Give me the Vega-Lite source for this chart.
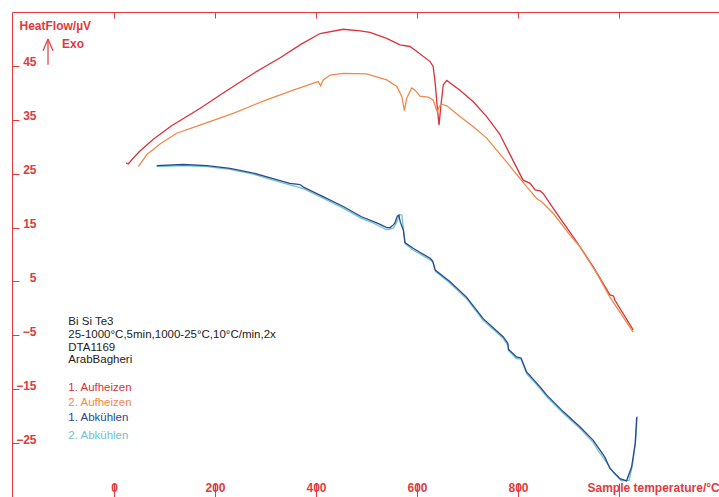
{
  "$schema": "https://vega.github.io/schema/vega-lite/v6.json",
  "width": 707,
  "height": 485,
  "padding": {"left": 12, "top": 12, "right": 0, "bottom": 0},
  "autosize": {"type": "none"},
  "background": "white",
  "config": {"view": {"stroke": null}, "font": "Liberation Sans"},
  "datasets": {
    "curves": [
      {"s": "1. Aufheizen", "i": 1, "T": 23.8, "V": 27.0},
      {"s": "1. Aufheizen", "i": 2, "T": 28.3, "V": 26.8},
      {"s": "1. Aufheizen", "i": 3, "T": 38.2, "V": 27.9},
      {"s": "1. Aufheizen", "i": 4, "T": 51.5, "V": 29.2},
      {"s": "1. Aufheizen", "i": 5, "T": 77.8, "V": 31.4},
      {"s": "1. Aufheizen", "i": 6, "T": 114, "V": 33.9},
      {"s": "1. Aufheizen", "i": 7, "T": 170, "V": 37.1},
      {"s": "1. Aufheizen", "i": 8, "T": 223, "V": 40.4},
      {"s": "1. Aufheizen", "i": 9, "T": 276, "V": 43.6},
      {"s": "1. Aufheizen", "i": 10, "T": 329, "V": 46.5},
      {"s": "1. Aufheizen", "i": 11, "T": 370, "V": 49.0},
      {"s": "1. Aufheizen", "i": 12, "T": 408, "V": 51.0},
      {"s": "1. Aufheizen", "i": 13, "T": 454, "V": 51.8},
      {"s": "1. Aufheizen", "i": 14, "T": 487, "V": 51.5},
      {"s": "1. Aufheizen", "i": 15, "T": 507, "V": 51.2},
      {"s": "1. Aufheizen", "i": 16, "T": 540, "V": 50.1},
      {"s": "1. Aufheizen", "i": 17, "T": 566, "V": 48.9},
      {"s": "1. Aufheizen", "i": 18, "T": 586, "V": 48.6},
      {"s": "1. Aufheizen", "i": 19, "T": 599, "V": 47.7},
      {"s": "1. Aufheizen", "i": 20, "T": 626, "V": 45.8},
      {"s": "1. Aufheizen", "i": 21, "T": 632, "V": 44.9},
      {"s": "1. Aufheizen", "i": 22, "T": 636, "V": 41.8},
      {"s": "1. Aufheizen", "i": 23, "T": 640, "V": 37.4},
      {"s": "1. Aufheizen", "i": 24, "T": 643.6, "V": 34.0},
      {"s": "1. Aufheizen", "i": 25, "T": 647, "V": 37.4},
      {"s": "1. Aufheizen", "i": 26, "T": 652, "V": 41.5},
      {"s": "1. Aufheizen", "i": 27, "T": 659, "V": 42.3},
      {"s": "1. Aufheizen", "i": 28, "T": 685, "V": 40.5},
      {"s": "1. Aufheizen", "i": 29, "T": 711, "V": 38.4},
      {"s": "1. Aufheizen", "i": 30, "T": 738, "V": 35.6},
      {"s": "1. Aufheizen", "i": 31, "T": 764, "V": 32.3},
      {"s": "1. Aufheizen", "i": 32, "T": 785, "V": 28.4},
      {"s": "1. Aufheizen", "i": 33, "T": 810, "V": 23.8},
      {"s": "1. Aufheizen", "i": 34, "T": 824, "V": 23.2},
      {"s": "1. Aufheizen", "i": 35, "T": 834, "V": 22.0},
      {"s": "1. Aufheizen", "i": 36, "T": 844, "V": 21.8},
      {"s": "1. Aufheizen", "i": 37, "T": 850, "V": 21.3},
      {"s": "1. Aufheizen", "i": 38, "T": 877, "V": 17.6},
      {"s": "1. Aufheizen", "i": 39, "T": 909, "V": 13.3},
      {"s": "1. Aufheizen", "i": 40, "T": 923, "V": 11.4},
      {"s": "1. Aufheizen", "i": 41, "T": 949, "V": 7.7},
      {"s": "1. Aufheizen", "i": 42, "T": 982, "V": 2.5},
      {"s": "1. Aufheizen", "i": 43, "T": 989, "V": 2.3},
      {"s": "1. Aufheizen", "i": 44, "T": 992, "V": 1.5},
      {"s": "1. Aufheizen", "i": 45, "T": 1028, "V": -4.0},

      {"s": "2. Aufheizen", "i": 1, "T": 47.9, "V": 26.3},
      {"s": "2. Aufheizen", "i": 2, "T": 53.5, "V": 27.0},
      {"s": "2. Aufheizen", "i": 3, "T": 64.7, "V": 28.5},
      {"s": "2. Aufheizen", "i": 4, "T": 91, "V": 30.5},
      {"s": "2. Aufheizen", "i": 5, "T": 124, "V": 32.5},
      {"s": "2. Aufheizen", "i": 6, "T": 170, "V": 34.0},
      {"s": "2. Aufheizen", "i": 7, "T": 236, "V": 36.2},
      {"s": "2. Aufheizen", "i": 8, "T": 302, "V": 38.7},
      {"s": "2. Aufheizen", "i": 9, "T": 355, "V": 40.5},
      {"s": "2. Aufheizen", "i": 10, "T": 395, "V": 41.8},
      {"s": "2. Aufheizen", "i": 11, "T": 404.6, "V": 42.1},
      {"s": "2. Aufheizen", "i": 12, "T": 409, "V": 41.3},
      {"s": "2. Aufheizen", "i": 13, "T": 414.5, "V": 42.4},
      {"s": "2. Aufheizen", "i": 14, "T": 428, "V": 43.3},
      {"s": "2. Aufheizen", "i": 15, "T": 454, "V": 43.6},
      {"s": "2. Aufheizen", "i": 16, "T": 500, "V": 43.5},
      {"s": "2. Aufheizen", "i": 17, "T": 540, "V": 42.4},
      {"s": "2. Aufheizen", "i": 18, "T": 560, "V": 41.2},
      {"s": "2. Aufheizen", "i": 19, "T": 570, "V": 39.3},
      {"s": "2. Aufheizen", "i": 20, "T": 575, "V": 36.7},
      {"s": "2. Aufheizen", "i": 21, "T": 579.6, "V": 39.0},
      {"s": "2. Aufheizen", "i": 22, "T": 589.5, "V": 40.9},
      {"s": "2. Aufheizen", "i": 23, "T": 596, "V": 40.5},
      {"s": "2. Aufheizen", "i": 24, "T": 606, "V": 39.4},
      {"s": "2. Aufheizen", "i": 25, "T": 622, "V": 39.2},
      {"s": "2. Aufheizen", "i": 26, "T": 632, "V": 38.7},
      {"s": "2. Aufheizen", "i": 27, "T": 637.6, "V": 37.1},
      {"s": "2. Aufheizen", "i": 28, "T": 640, "V": 36.5},
      {"s": "2. Aufheizen", "i": 29, "T": 644, "V": 37.4},
      {"s": "2. Aufheizen", "i": 30, "T": 649, "V": 37.9},
      {"s": "2. Aufheizen", "i": 31, "T": 659, "V": 37.6},
      {"s": "2. Aufheizen", "i": 32, "T": 685, "V": 35.6},
      {"s": "2. Aufheizen", "i": 33, "T": 711.5, "V": 33.7},
      {"s": "2. Aufheizen", "i": 34, "T": 738, "V": 31.6},
      {"s": "2. Aufheizen", "i": 35, "T": 778, "V": 27.1},
      {"s": "2. Aufheizen", "i": 36, "T": 817, "V": 22.6},
      {"s": "2. Aufheizen", "i": 37, "T": 837, "V": 20.4},
      {"s": "2. Aufheizen", "i": 38, "T": 847, "V": 19.8},
      {"s": "2. Aufheizen", "i": 39, "T": 870, "V": 17.6},
      {"s": "2. Aufheizen", "i": 40, "T": 903, "V": 13.6},
      {"s": "2. Aufheizen", "i": 41, "T": 923, "V": 11.4},
      {"s": "2. Aufheizen", "i": 42, "T": 956, "V": 6.5},
      {"s": "2. Aufheizen", "i": 43, "T": 982, "V": 2.1},
      {"s": "2. Aufheizen", "i": 44, "T": 1028, "V": -4.4},

      {"s": "2. Abkühlen", "i": 1, "T": 84.5, "V": 26.3},
      {"s": "2. Abkühlen", "i": 2, "T": 137, "V": 26.5},
      {"s": "2. Abkühlen", "i": 3, "T": 184, "V": 26.3},
      {"s": "2. Abkühlen", "i": 4, "T": 230, "V": 25.8},
      {"s": "2. Abkühlen", "i": 5, "T": 276, "V": 24.9},
      {"s": "2. Abkühlen", "i": 6, "T": 315, "V": 23.8},
      {"s": "2. Abkühlen", "i": 7, "T": 348, "V": 22.9},
      {"s": "2. Abkühlen", "i": 8, "T": 365, "V": 22.5},
      {"s": "2. Abkühlen", "i": 9, "T": 375, "V": 22.2},
      {"s": "2. Abkühlen", "i": 10, "T": 415, "V": 20.4},
      {"s": "2. Abkühlen", "i": 11, "T": 454, "V": 18.6},
      {"s": "2. Abkühlen", "i": 12, "T": 490, "V": 16.7},
      {"s": "2. Abkühlen", "i": 13, "T": 514, "V": 15.8},
      {"s": "2. Abkühlen", "i": 14, "T": 540, "V": 14.6},
      {"s": "2. Abkühlen", "i": 15, "T": 553, "V": 14.9},
      {"s": "2. Abkühlen", "i": 16, "T": 560, "V": 16.0},
      {"s": "2. Abkühlen", "i": 17, "T": 566, "V": 17.4},
      {"s": "2. Abkühlen", "i": 18, "T": 570, "V": 17.3},
      {"s": "2. Abkühlen", "i": 19, "T": 574, "V": 14.0},
      {"s": "2. Abkühlen", "i": 20, "T": 577, "V": 11.9},
      {"s": "2. Abkühlen", "i": 21, "T": 593, "V": 10.8},
      {"s": "2. Abkühlen", "i": 22, "T": 626, "V": 9.0},
      {"s": "2. Abkühlen", "i": 23, "T": 632, "V": 8.5},
      {"s": "2. Abkühlen", "i": 24, "T": 637, "V": 6.8},
      {"s": "2. Abkühlen", "i": 25, "T": 665, "V": 4.7},
      {"s": "2. Abkühlen", "i": 26, "T": 698, "V": 1.8},
      {"s": "2. Abkühlen", "i": 27, "T": 731, "V": -2.2},
      {"s": "2. Abkühlen", "i": 28, "T": 771, "V": -5.6},
      {"s": "2. Abkühlen", "i": 29, "T": 780, "V": -6.9},
      {"s": "2. Abkühlen", "i": 30, "T": 782, "V": -7.9},
      {"s": "2. Abkühlen", "i": 31, "T": 797, "V": -9.3},
      {"s": "2. Abkühlen", "i": 32, "T": 806, "V": -9.4},
      {"s": "2. Abkühlen", "i": 33, "T": 817, "V": -12.1},
      {"s": "2. Abkühlen", "i": 34, "T": 844, "V": -14.9},
      {"s": "2. Abkühlen", "i": 35, "T": 857, "V": -16.4},
      {"s": "2. Abkühlen", "i": 36, "T": 890, "V": -19.5},
      {"s": "2. Abkühlen", "i": 37, "T": 923, "V": -22.3},
      {"s": "2. Abkühlen", "i": 38, "T": 949, "V": -24.9},
      {"s": "2. Abkühlen", "i": 39, "T": 960, "V": -26.6},
      {"s": "2. Abkühlen", "i": 40, "T": 972, "V": -28.1},
      {"s": "2. Abkühlen", "i": 41, "T": 990, "V": -30.6},
      {"s": "2. Abkühlen", "i": 42, "T": 1005, "V": -32.0},
      {"s": "2. Abkühlen", "i": 43, "T": 1020, "V": -31.9},
      {"s": "2. Abkühlen", "i": 44, "T": 1027, "V": -28.9},
      {"s": "2. Abkühlen", "i": 45, "T": 1033, "V": -24.6},
      {"s": "2. Abkühlen", "i": 46, "T": 1036, "V": -20.0},

      {"s": "1. Abkühlen", "i": 1, "T": 84.5, "V": 26.5},
      {"s": "1. Abkühlen", "i": 2, "T": 137, "V": 26.7},
      {"s": "1. Abkühlen", "i": 3, "T": 184, "V": 26.5},
      {"s": "1. Abkühlen", "i": 4, "T": 230, "V": 26.0},
      {"s": "1. Abkühlen", "i": 5, "T": 276, "V": 25.1},
      {"s": "1. Abkühlen", "i": 6, "T": 315, "V": 24.1},
      {"s": "1. Abkühlen", "i": 7, "T": 348, "V": 23.2},
      {"s": "1. Abkühlen", "i": 8, "T": 365, "V": 23.0},
      {"s": "1. Abkühlen", "i": 9, "T": 370, "V": 22.9},
      {"s": "1. Abkühlen", "i": 10, "T": 375, "V": 22.5},
      {"s": "1. Abkühlen", "i": 11, "T": 415, "V": 20.7},
      {"s": "1. Abkühlen", "i": 12, "T": 454, "V": 18.9},
      {"s": "1. Abkühlen", "i": 13, "T": 490, "V": 17.0},
      {"s": "1. Abkühlen", "i": 14, "T": 514, "V": 16.1},
      {"s": "1. Abkühlen", "i": 15, "T": 527, "V": 15.6},
      {"s": "1. Abkühlen", "i": 16, "T": 540, "V": 15.0},
      {"s": "1. Abkühlen", "i": 17, "T": 547, "V": 15.0},
      {"s": "1. Abkühlen", "i": 18, "T": 553, "V": 15.5},
      {"s": "1. Abkühlen", "i": 19, "T": 556, "V": 15.8},
      {"s": "1. Abkühlen", "i": 20, "T": 561, "V": 17.1},
      {"s": "1. Abkühlen", "i": 21, "T": 564, "V": 17.3},
      {"s": "1. Abkühlen", "i": 22, "T": 567, "V": 16.0},
      {"s": "1. Abkühlen", "i": 23, "T": 573, "V": 14.5},
      {"s": "1. Abkühlen", "i": 24, "T": 576, "V": 12.2},
      {"s": "1. Abkühlen", "i": 25, "T": 593, "V": 11.1},
      {"s": "1. Abkühlen", "i": 26, "T": 626, "V": 9.3},
      {"s": "1. Abkühlen", "i": 27, "T": 631, "V": 8.8},
      {"s": "1. Abkühlen", "i": 28, "T": 636, "V": 7.1},
      {"s": "1. Abkühlen", "i": 29, "T": 665, "V": 5.0},
      {"s": "1. Abkühlen", "i": 30, "T": 698, "V": 2.1},
      {"s": "1. Abkühlen", "i": 31, "T": 731, "V": -1.9},
      {"s": "1. Abkühlen", "i": 32, "T": 771, "V": -5.3},
      {"s": "1. Abkühlen", "i": 33, "T": 780, "V": -6.5},
      {"s": "1. Abkühlen", "i": 34, "T": 781, "V": -7.6},
      {"s": "1. Abkühlen", "i": 35, "T": 797, "V": -9.0},
      {"s": "1. Abkühlen", "i": 36, "T": 806, "V": -9.2},
      {"s": "1. Abkühlen", "i": 37, "T": 817, "V": -11.8},
      {"s": "1. Abkühlen", "i": 38, "T": 844, "V": -14.6},
      {"s": "1. Abkühlen", "i": 39, "T": 857, "V": -16.1},
      {"s": "1. Abkühlen", "i": 40, "T": 890, "V": -19.2},
      {"s": "1. Abkühlen", "i": 41, "T": 923, "V": -22.0},
      {"s": "1. Abkühlen", "i": 42, "T": 949, "V": -24.5},
      {"s": "1. Abkühlen", "i": 43, "T": 972, "V": -27.6},
      {"s": "1. Abkühlen", "i": 44, "T": 982, "V": -29.7},
      {"s": "1. Abkühlen", "i": 45, "T": 1002, "V": -31.6},
      {"s": "1. Abkühlen", "i": 46, "T": 1015, "V": -32.0},
      {"s": "1. Abkühlen", "i": 47, "T": 1025, "V": -29.4},
      {"s": "1. Abkühlen", "i": 48, "T": 1032, "V": -25.1},
      {"s": "1. Abkühlen", "i": 49, "T": 1035, "V": -20.2}
    ],
    "notes": [
      {"s": "info", "T": -90.5, "V": -2.6, "label": "Bi Si Te3", "fs": 11.5},
      {"s": "info", "T": -90.5, "V": -4.95, "label": "25-1000°C,5min,1000-25°C,10°C/min,2x"},
      {"s": "info", "T": -90.5, "V": -7.3, "label": "DTA1169"},
      {"s": "info", "T": -90.5, "V": -9.65, "label": "ArabBagheri"},
      {"s": "1. Aufheizen", "T": -90.5, "V": -14.8, "label": "1. Aufheizen"},
      {"s": "2. Aufheizen", "T": -90.5, "V": -17.6, "label": "2. Aufheizen"},
      {"s": "1. Abkühlen", "T": -90.5, "V": -20.4, "label": "1. Abkühlen"},
      {"s": "2. Abkühlen", "T": -90.5, "V": -23.6, "label": "2. Abkühlen"}
    ],
    "arrow": [
      {"x1": -130.7, "y1": 45.2, "x2": -130.7, "y2": 50.0},
      {"x1": -140.6, "y1": 47.8, "x2": -130.7, "y2": 50.0},
      {"x1": -120.8, "y1": 47.8, "x2": -130.7, "y2": 50.0}
    ],
    "exo": [
      {"T": -103, "V": 49.1, "label": "Exo"}
    ]
  },
  "layer": [
    {
      "data": {"name": "curves"},
      "mark": {"type": "line", "strokeWidth": 1.3},
      "encoding": {
        "x": {
          "field": "T", "type": "quantitative",
          "scale": {"domain": [-202, 1198], "nice": false, "zero": false},
          "axis": {
            "orient": "bottom",
            "values": [0, 200, 400, 600, 800, 1000],
            "labelExpr": "datum.value == 1000 ? '' : datum.label",
            "domain": false,
            "grid": false,
            "tickSize": -14,
            "tickColor": "#e43a3f",
            "tickWidth": 1,
            "labelPadding": 4,
            "labelBaseline": "middle",
            "labelFont": "Liberation Sans",
            "labelFontSize": 12,
            "labelFontWeight": "bold",
            "labelColor": "#e03a3e",
            "title": "Sample temperature/°C",
            "titleX": 575,
            "titleY": -6,
            "titleAlign": "left",
            "titleBaseline": "alphabetic",
            "titleFont": "Liberation Sans",
            "titleFontSize": 12,
            "titleFontWeight": "bold",
            "titleColor": "#e03a3e"
          }
        },
        "y": {
          "field": "V", "type": "quantitative",
          "scale": {"domain": [-35, 55], "nice": false, "zero": false},
          "axis": {
            "orient": "left",
            "values": [-25, -15, -5, 5, 15, 25, 35, 45],
            "grid": false,
            "domain": true,
            "domainColor": "#e43a3f",
            "domainWidth": 1,
            "tickSize": -7,
            "tickColor": "#e43a3f",
            "tickWidth": 1,
            "labelPadding": -17,
            "labelAlign": "right",
            "labelBaseline": "alphabetic",
            "labelFont": "Liberation Sans",
            "labelFontSize": 12,
            "labelFontWeight": "bold",
            "labelColor": "#e03a3e",
            "title": "HeatFlow/µV",
            "titleAngle": 0,
            "titleX": 7,
            "titleY": 17,
            "titleAlign": "left",
            "titleBaseline": "alphabetic",
            "titleFont": "Liberation Sans",
            "titleFontSize": 12,
            "titleFontWeight": "bold",
            "titleColor": "#e03a3e"
          }
        },
        "color": {
          "field": "s", "type": "nominal",
          "scale": {
            "domain": ["1. Aufheizen", "2. Aufheizen", "1. Abkühlen", "2. Abkühlen", "info"],
            "range": ["#d8323a", "#ee8a4c", "#2b4790", "#6ec4cd", "#222222"]
          },
          "legend": null
        },
        "order": {"field": "i", "type": "quantitative"}
      }
    },
    {
      "data": {"name": "arrow"},
      "mark": {"type": "rule", "color": "#e43a3f", "strokeWidth": 1.2},
      "encoding": {
        "x": {
          "field": "x1", "type": "quantitative",
          "axis": {
            "orient": "top",
            "values": [0, 200, 400, 600, 800, 1000],
            "labels": false,
            "title": null,
            "grid": false,
            "domain": true,
            "domainColor": "#e43a3f",
            "domainWidth": 1,
            "tickSize": -6,
            "tickColor": "#e43a3f",
            "tickWidth": 1
          }
        },
        "y": {"field": "y1", "type": "quantitative"},
        "x2": {"field": "x2"},
        "y2": {"field": "y2"}
      }
    },
    {
      "data": {"name": "notes"},
      "mark": {"type": "text", "align": "left", "baseline": "middle", "fontSize": 11.5, "font": "Liberation Sans"},
      "encoding": {
        "x": {"field": "T", "type": "quantitative", "axis": null},
        "y": {"field": "V", "type": "quantitative"},
        "text": {"field": "label"},
        "color": {"field": "s", "type": "nominal", "legend": null}
      }
    },
    {
      "data": {"name": "exo"},
      "mark": {"type": "text", "align": "left", "baseline": "middle", "fontSize": 12, "fontWeight": "bold", "font": "Liberation Sans", "color": "#e03a3e"},
      "encoding": {
        "x": {"field": "T", "type": "quantitative", "axis": null},
        "y": {"field": "V", "type": "quantitative"},
        "text": {"field": "label"}
      }
    }
  ],
  "resolve": {"axis": {"x": "independent"}}
}
